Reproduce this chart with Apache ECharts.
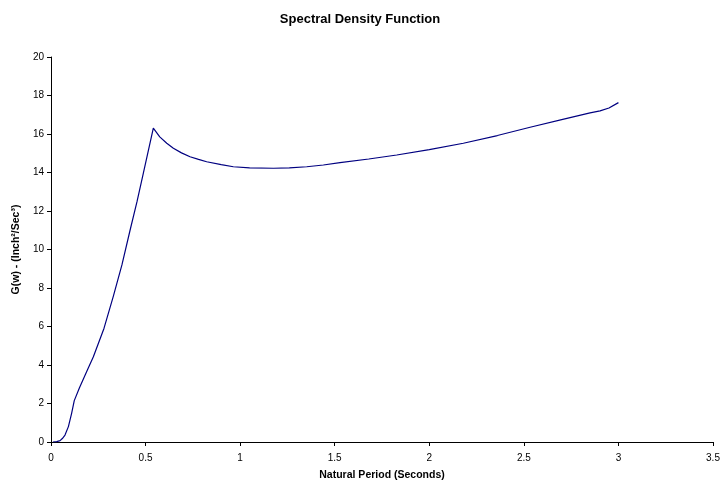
<!DOCTYPE html>
<html>
<head>
<meta charset="utf-8">
<script src="https://cdn.jsdelivr.net/npm/echarts@6/dist/echarts.min.js"></script>
<style>html,body{margin:0;padding:0;background:#fff}#c{width:720px;height:484px}</style>
</head>
<body>
<div id="c"></div>
<script>
const periods = [0.01,0.03,0.048,0.06,0.074,0.092,0.109,0.123,0.15,0.19,0.224,0.28,0.329,0.375,0.418,0.455,0.488,0.541,0.575,0.612,0.647,0.69,0.735,0.78,0.823,0.9,0.964,1.05,1.176,1.26,1.352,1.44,1.528,1.68,1.828,2.0,2.18,2.36,2.533,2.7,2.85,2.903,2.95,3.0];
const density = [0,0.02,0.07,0.18,0.36,0.8,1.49,2.15,2.8,3.69,4.43,5.9,7.55,9.2,11.0,12.5,13.96,16.3,15.85,15.52,15.26,15.02,14.82,14.68,14.56,14.41,14.30,14.24,14.22,14.24,14.30,14.39,14.51,14.70,14.91,15.19,15.52,15.92,16.35,16.75,17.1,17.2,17.35,17.63];
const xTicks = {min:0, max:3.5, interval:0.5};
const yTicks = {min:0, max:20, interval:2};
const titleText = 'Spectral Density Function';
const xName = 'Natural Period (Seconds)';
const yName = 'G(w) - (Inch\u00B2/Sec\u00B3)';

const chart = echarts.init(document.getElementById('c'));
const font = 'Liberation Sans, Arial, sans-serif';
chart.setOption({
  animation:false,
  backgroundColor:'#fff',
  title:{text:titleText,left:'center',top:8,textStyle:{fontFamily:font,fontSize:13,fontWeight:'bold',color:'#000'}},
  grid:{left:51,right:7,top:57,bottom:42,containLabel:false,outerBoundsMode:'none'},
  xAxis:{type:'value',min:xTicks.min,max:xTicks.max,interval:xTicks.interval,
    name:xName,nameLocation:'middle',nameGap:28,
    nameTextStyle:{fontFamily:font,fontSize:10.5,fontWeight:'bold',color:'#000'},
    axisLine:{lineStyle:{color:'#000',width:1}},
    axisTick:{inside:false,length:4,lineStyle:{color:'#000'}},
    axisLabel:{fontFamily:font,fontSize:10,color:'#000',margin:11},
    splitLine:{show:false}},
  yAxis:{type:'value',min:yTicks.min,max:yTicks.max,interval:yTicks.interval,
    name:yName,nameLocation:'middle',nameGap:26,nameRotate:90,
    nameTextStyle:{fontFamily:font,fontSize:10.5,fontWeight:'bold',color:'#000'},
    axisLine:{show:true,lineStyle:{color:'#000',width:1}},
    axisTick:{show:true,inside:false,length:4,lineStyle:{color:'#000'}},
    axisLabel:{fontFamily:font,fontSize:10,color:'#000',margin:7},
    splitLine:{show:false}},
  series:[{type:'line',data:periods.map((p,i)=>[p,density[i]]),showSymbol:false,symbol:'none',
    smooth:false,lineStyle:{color:'#000080',width:1.2}}]
});
</script>
</body>
</html>
